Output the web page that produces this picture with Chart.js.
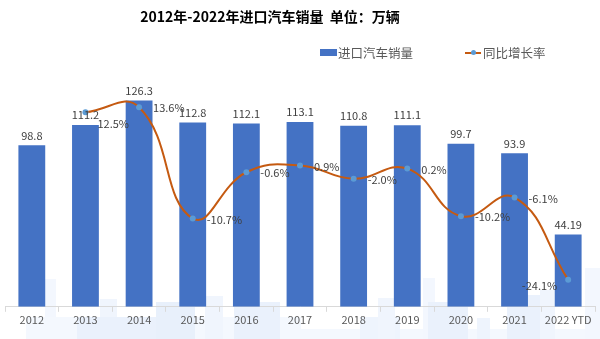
<!DOCTYPE html>
<html lang="zh">
<head>
    <meta charset="UTF-8">
    <title>进口汽车销量</title>
    <script src="https://cdn.jsdelivr.net/npm/chart.js"></script>
    <style>
        html, body {
            margin: 0;
            padding: 0;
            background: #fff;
        }
        #wrap {
            position: relative;
            width: 600px;
            height: 339px;
            font-family: "Noto Sans CJK SC", "Noto Sans", sans-serif;
        }
        /* faint skyline watermark behind the chart */
        .sky {
            position: absolute;
            bottom: 0;
        }
        #title {
            position: absolute;
            left: 0;
            width: 540px;
            top: 6px;
            text-align: center;
            font-size: 14px;
            font-weight: bold;
            color: #000;
        }
        #legend {
            position: absolute;
            top: 43px;
            left: 320px;
            font-size: 12.5px;
            color: #595959;
            display: flex;
            align-items: center;
        }
        .lg-item {
            display: flex;
            align-items: center;
        }
        .lg-bar {
            width: 17px;
            height: 7px;
            background: #4472C4;
            margin-right: 1px;
        }
        .lg-line {
            position: relative;
            width: 16px;
            height: 2px;
            background: #C55A11;
            margin-right: 2px;
        }
        .lg-line span {
            position: absolute;
            left: 6px;
            top: -2px;
            width: 5px;
            height: 5px;
            border-radius: 50%;
            background: #5B9BD5;
        }
        canvas {
            position: absolute;
            left: 0;
            top: 0;
        }
    </style>
</head>
<body>
<div id="wrap">
    <div class="sky" style="left:45px;width:11px;height:60px;background:#F3F7FE"></div>
    <div class="sky" style="left:26px;width:275px;height:22px;background:#F4F8FE"></div>
    <div class="sky" style="left:100px;width:17px;height:40px;background:#F0F5FD"></div>
    <div class="sky" style="left:77px;width:118px;height:22px;background:#EAF1FC"></div>
    <div class="sky" style="left:156px;width:39px;height:37px;background:#E8F0FB"></div>
    <div class="sky" style="left:205px;width:18px;height:43px;background:#F0F5FD"></div>
    <div class="sky" style="left:234px;width:46px;height:37px;background:#EAF1FC"></div>
    <div class="sky" style="left:300px;width:300px;height:10px;background:#F4F8FE"></div>
    <div class="sky" style="left:360px;width:40px;height:22px;background:#EEF4FD"></div>
    <div class="sky" style="left:378px;width:17px;height:41px;background:#F0F5FD"></div>
    <div class="sky" style="left:423px;width:12px;height:61px;background:#F3F7FE"></div>
    <div class="sky" style="left:428px;width:40px;height:37px;background:#EAF1FC"></div>
    <div class="sky" style="left:477px;width:13px;height:21px;background:#EEF4FD"></div>
    <div class="sky" style="left:507px;width:33px;height:44px;background:#EAF1FC"></div>
    <div class="sky" style="left:540px;width:15px;height:49px;background:#F0F5FD"></div>
    <div class="sky" style="left:585px;width:15px;height:71px;background:#F3F7FE"></div>
    <canvas id="chart" width="600" height="339"></canvas>
    <div id="title">2012年-2022年进口汽车销量&nbsp; 单位：万辆</div>
    <div id="legend">
        <div class="lg-item"><div class="lg-bar"></div>进口汽车销量</div>
        <div class="lg-item" style="margin-left:52px"><div class="lg-line"><span></span></div>同比增长率</div>
    </div>
</div>

<script>
    // chart data
    const years = ['2012', '2013', '2014', '2015', '2016', '2017', '2018', '2019', '2020', '2021', '2022 YTD'];
    const sales = [98.8, 111.2, 126.3, 112.8, 112.1, 113.1, 110.8, 111.1, 99.7, 93.9, 44.19];
    const growth = [null, 12.5, 13.6, -10.7, -0.6, 0.9, -2.0, 0.2, -10.2, -6.1, -24.1];

    // where each growth label sits next to its point
    const growthLabelSide = ['right', 'below', 'right', 'right', 'right', 'right', 'right', 'right', 'right', 'right', 'left'];

    const labelFont = '11px "Noto Sans CJK SC", "Noto Sans", sans-serif';

    // draws the value labels for bars and line points
    const valueLabels = {
        id: 'valueLabels',
        afterDatasetsDraw(chart) {
            const ctx = chart.ctx;
            ctx.save();
            ctx.font = labelFont;
            ctx.fillStyle = '#404040';
            ctx.textBaseline = 'middle';

            const barMeta = chart.getDatasetMeta(1);
            barMeta.data.forEach((bar, i) => {
                ctx.textAlign = 'center';
                ctx.fillText(String(sales[i]), bar.x, bar.y - 10);
            });

            const lineMeta = chart.getDatasetMeta(0);
            lineMeta.data.forEach((pt, i) => {
                if (growth[i] === null) return;
                const txt = growth[i].toFixed(1) + '%';
                const side = growthLabelSide[i];
                if (side === 'left') {
                    ctx.textAlign = 'right';
                    ctx.fillText(txt, pt.x - 11, pt.y + 6);
                } else if (side === 'below') {
                    ctx.textAlign = 'left';
                    ctx.fillText(txt, pt.x + 12, pt.y + 11);
                } else {
                    ctx.textAlign = 'left';
                    ctx.fillText(txt, pt.x + 14, pt.y + 1);
                }
            });
            ctx.restore();
        }
    };

    const ctx = document.getElementById('chart').getContext('2d');
    new Chart(ctx, {
        data: {
            labels: years,
            datasets: [
                {
                    type: 'line',
                    label: '同比增长率',
                    data: growth,
                    yAxisID: 'y2',
                    borderColor: '#C55A11',
                    borderWidth: 2,
                    tension: 0.45,
                    pointRadius: 3,
                    pointBackgroundColor: '#5B9BD5',
                    pointBorderColor: '#5B9BD5',
                    pointBorderWidth: 0,
                    order: 0
                },
                {
                    type: 'bar',
                    label: '进口汽车销量',
                    data: sales,
                    yAxisID: 'y',
                    backgroundColor: '#4472C4',
                    borderColor: '#4472C4',
                    borderWidth: 0,
                    barPercentage: 0.5,
                    categoryPercentage: 1.0,
                    order: 1
                }
            ]
        },
        options: {
            responsive: false,
            animation: false,
            layout: {
                padding: { top: 78, left: 5, right: 5, bottom: 12 }
            },
            plugins: {
                legend: { display: false },
                tooltip: { enabled: false }
            },
            scales: {
                x: {
                    offset: true,
                    grid: {
                        offset: true,
                        drawOnChartArea: false,
                        drawTicks: true,
                        tickLength: 5,
                        color: '#D9D9D9'
                    },
                    border: { color: '#D9D9D9' },
                    ticks: {
                        padding: 1,
                        color: '#595959',
                        font: { family: '"Noto Sans CJK SC", "Noto Sans", sans-serif', size: 11 },
                        maxRotation: 0,
                        autoSkip: false
                    }
                },
                y: {
                    display: false,
                    min: 0,
                    max: 140
                },
                y2: {
                    display: false,
                    position: 'right',
                    min: -30,
                    max: 20
                }
            }
        },
        plugins: [valueLabels]
    });
</script>
</body>
</html>
